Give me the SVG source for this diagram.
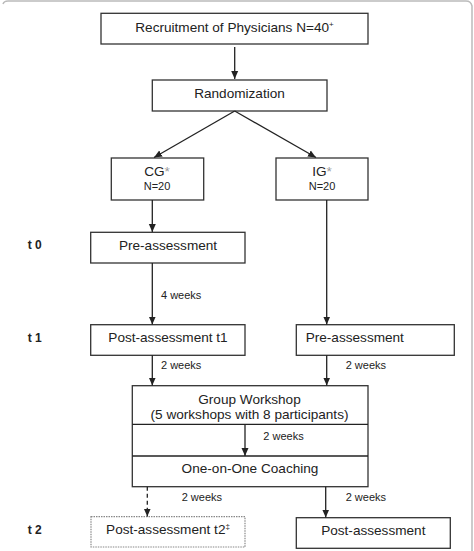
<svg xmlns="http://www.w3.org/2000/svg" width="474" height="551" viewBox="0 0 474 551">
<style>
.box{fill:#fff;stroke:#333;stroke-width:1.3}
.dot{fill:#fff;stroke:#888;stroke-width:1.2;stroke-dasharray:1.5 1}
.t{font-family:"Liberation Sans",Arial,sans-serif;font-size:13.6px;fill:#222}
.s{font-family:"Liberation Sans",Arial,sans-serif;font-size:11px;fill:#222}
.lb{font-family:"Liberation Sans",Arial,sans-serif;font-size:12px;font-weight:bold;fill:#222}
.c{fill:none;stroke:#222;stroke-width:1.3}
</style>
<defs>
<marker id="ah" viewBox="0 0 8 8" refX="8" refY="4" markerWidth="8" markerHeight="8" markerUnits="userSpaceOnUse" orient="auto">
<path d="M0,0.5 L8,4 L0,7.5 z" fill="#222"/>
</marker>
</defs>
<rect width="474" height="551" fill="#fff"/>
<path d="M3,4 Q4,1 8,1 L466,1 Q471,1 472,6 L472,551" fill="none" stroke="#bbb" stroke-width="1.5"/>

<g id="time-labels">
<text class="lb" x="27.7" y="249">t 0</text>
<text class="lb" x="27.7" y="341.5">t 1</text>
<text class="lb" x="27.7" y="534">t 2</text>
</g>

<g id="recruitment">
<rect class="box" x="101" y="13.3" width="267" height="30.7"/>
<text class="t" x="234.5" y="31.5" text-anchor="middle">Recruitment of Physicians N=40<tspan font-size="8" dy="-5">+</tspan></text>
</g>

<g id="randomization">
<rect class="box" x="152.3" y="80" width="174.7" height="31"/>
<text class="t" x="239.5" y="97.5" text-anchor="middle">Randomization</text>
</g>

<g id="cg">
<rect class="box" x="111.3" y="158" width="92.4" height="42"/>
<text class="t" x="157" y="175.5" text-anchor="middle">CG<tspan fill="#999">*</tspan></text>
<text class="s" x="157" y="189.5" text-anchor="middle">N=20</text>
</g>

<g id="ig">
<rect class="box" x="276" y="158" width="92" height="42"/>
<text class="t" x="322" y="175.5" text-anchor="middle">IG<tspan fill="#999">*</tspan></text>
<text class="s" x="322" y="189.5" text-anchor="middle">N=20</text>
</g>

<g id="pre-cg">
<rect class="box" x="90.7" y="232.3" width="154.3" height="30.7"/>
<text class="t" x="168" y="249.5" text-anchor="middle">Pre-assessment</text>
</g>

<g id="post-t1">
<rect class="box" x="90.7" y="324.7" width="154.3" height="30.6"/>
<text class="t" x="168" y="341.7" text-anchor="middle">Post-assessment t1</text>
</g>

<g id="pre-ig">
<rect class="box" x="296.3" y="324.7" width="158" height="30.6"/>
<text class="t" x="305.7" y="341.7">Pre-assessment</text>
</g>

<g id="intervention">
<rect class="box" x="132.3" y="385.7" width="235.7" height="101"/>
<line class="c" x1="132.3" y1="424.3" x2="368" y2="424.3"/>
<line class="c" x1="132.3" y1="456" x2="368" y2="456"/>
<text class="t" x="249.5" y="403.5" text-anchor="middle">Group Workshop</text>
<text class="t" x="249.5" y="418.5" text-anchor="middle">(5 workshops with 8 participants)</text>
<text class="t" x="250" y="472.7" text-anchor="middle">One-on-One Coaching</text>
</g>

<g id="post-t2">
<rect class="dot" x="91" y="516.7" width="154" height="30.3"/>
<text class="t" x="168" y="534" text-anchor="middle">Post-assessment t2<tspan font-size="8" dy="-5">‡</tspan></text>
</g>

<g id="post-ig">
<rect class="box" x="296.3" y="517.7" width="154" height="30.6"/>
<text class="t" x="373.3" y="534.5" text-anchor="middle">Post-assessment</text>
</g>

<g id="connectors">
<line class="c" x1="234.7" y1="47" x2="234.7" y2="79" marker-end="url(#ah)"/>
<line class="c" x1="234.7" y1="111" x2="154" y2="157.5" marker-end="url(#ah)"/>
<line class="c" x1="234.7" y1="111" x2="316" y2="157.5" marker-end="url(#ah)"/>
<line class="c" x1="152.3" y1="200" x2="152.3" y2="232" marker-end="url(#ah)"/>
<line class="c" x1="326.7" y1="200" x2="326.7" y2="324.5" marker-end="url(#ah)"/>
<line class="c" x1="152.3" y1="263" x2="152.3" y2="324.5" marker-end="url(#ah)"/>
<line class="c" x1="152.3" y1="355.3" x2="152.3" y2="385.5" marker-end="url(#ah)"/>
<line class="c" x1="326.7" y1="355.3" x2="326.7" y2="385.5" marker-end="url(#ah)"/>
<line class="c" x1="245" y1="424.3" x2="245" y2="456" marker-end="url(#ah)"/>
<line class="c" x1="147.3" y1="486.7" x2="147.3" y2="516.5" stroke-dasharray="4 3" marker-end="url(#ah)"/>
<line class="c" x1="325.7" y1="486.7" x2="325.7" y2="517.5" marker-end="url(#ah)"/>
<text class="s" x="161" y="299">4 weeks</text>
<text class="s" x="161" y="369">2 weeks</text>
<text class="s" x="345.7" y="369">2 weeks</text>
<text class="s" x="263.3" y="440">2 weeks</text>
<text class="s" x="181.7" y="501">2 weeks</text>
<text class="s" x="345.7" y="501">2 weeks</text>
</g>
</svg>
